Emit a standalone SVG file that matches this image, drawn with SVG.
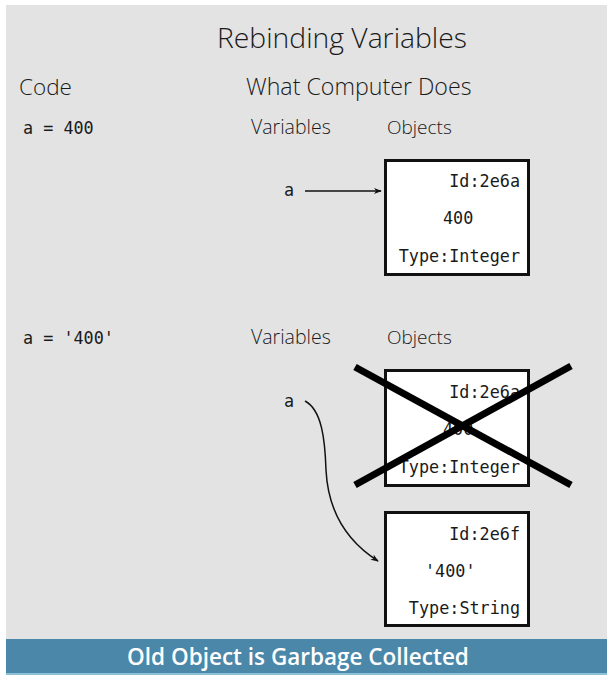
<svg xmlns="http://www.w3.org/2000/svg" width="612" height="682" viewBox="0 0 612 682">
<defs>
<style>
.sans{font-family:"Open Sans","Noto Sans",sans-serif;font-weight:300;fill:#1a1a1a}
.mono{font-family:"DejaVu Sans Mono","Liberation Mono",monospace;font-size:16.8px;fill:#1a1a1a}
.box{fill:#ffffff;stroke:#111;stroke-width:3}
.cross{stroke:#000;stroke-width:7;stroke-linecap:butt}
.conn{fill:none;stroke:#111;stroke-width:1.5}
</style>
<marker id="arr" viewBox="0 0 10 10" refX="9" refY="5" markerWidth="8" markerHeight="8" markerUnits="userSpaceOnUse" orient="auto">
<path d="M0,1 L10,5 L0,9 L3,5 Z" fill="#111"/>
</marker>
</defs>
<rect x="6" y="5" width="601" height="669" fill="#e3e3e3"/>
<g id="title">
<text class="sans" x="342" y="48" font-size="28.3" text-anchor="middle">Rebinding Variables</text>
<text class="sans" x="19" y="95" font-size="22.5">Code</text>
<text class="sans" x="246" y="95" font-size="23.2">What Computer Does</text>
</g>
<g id="section1">
<text class="mono" x="23" y="134">a = 400</text>
<text class="sans" x="251" y="134" font-size="19.5">Variables</text>
<text class="sans" x="387" y="134" font-size="19">Objects</text>
</g>
<g id="var-a1"><text class="mono" x="284" y="196">a</text></g>
<g id="obj1">
<rect class="box" x="385.5" y="160.5" width="143" height="114"/>
<text class="mono" x="520" y="187" text-anchor="end">Id:2e6a</text>
<text class="mono" x="443" y="224">400</text>
<text class="mono" x="520" y="262" text-anchor="end">Type:Integer</text>
</g>
<g id="section2">
<text class="mono" x="23" y="344">a = '400'</text>
<text class="sans" x="251" y="344" font-size="19.5">Variables</text>
<text class="sans" x="387" y="344" font-size="19">Objects</text>
</g>
<g id="var-a2"><text class="mono" x="284" y="407">a</text></g>
<g id="obj2">
<rect class="box" x="385.5" y="370.5" width="143" height="115"/>
<text class="mono" x="520" y="398" text-anchor="end">Id:2e6a</text>
<text class="mono" x="443" y="435">400</text>
<text class="mono" x="520" y="473" text-anchor="end">Type:Integer</text>
<line class="cross" x1="355" y1="367" x2="571" y2="485"/>
<line class="cross" x1="355" y1="485" x2="571" y2="366"/>
</g>
<g id="obj3">
<rect class="box" x="385.5" y="512.5" width="143" height="113"/>
<text class="mono" x="520" y="540" text-anchor="end">Id:2e6f</text>
<text class="mono" x="425" y="577">'400'</text>
<text class="mono" x="520" y="614" text-anchor="end">Type:String</text>
</g>
<g id="connectors">
<line class="conn" x1="305" y1="191" x2="381" y2="191" marker-end="url(#arr)"/>
<path class="conn" d="M305,401 C322,410 325,440 326,470 C328,510 345,540 378,561" marker-end="url(#arr)"/>
</g>
<g id="footer">
<rect x="6" y="639" width="601" height="34" fill="#4b87a9"/>
<rect x="6" y="673" width="601" height="2" fill="#8cc0d8"/>
<text x="298" y="665" font-family="'Open Sans','Noto Sans',sans-serif" font-weight="600" font-size="22.5" fill="#ffffff" text-anchor="middle">Old Object is Garbage Collected</text>
</g>
</svg>
